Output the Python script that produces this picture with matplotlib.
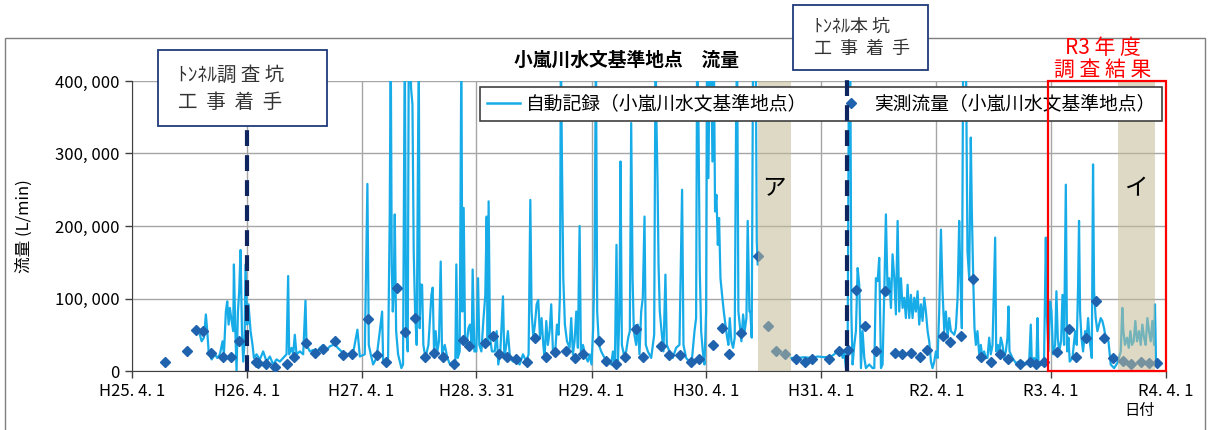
import numpy as np
import pandas as pd
import matplotlib
matplotlib.use('Agg')
import matplotlib.pyplot as plt
from matplotlib.lines import Line2D
from matplotlib.patches import Rectangle

plt.rcParams['font.family'] = ['Noto Sans CJK JP', 'DejaVu Sans']

# --- data (time in years from H25.4.1, flow in 1000 L/min) ---
auto_t = [
    0.591, 0.606, 0.626, 0.643, 0.655, 0.667, 0.693, 0.722, 0.742, 0.765, 0.788, 0.8, 0.817, 0.829, 0.841,
    0.852, 0.867, 0.881, 0.887, 0.899, 0.91, 0.922, 0.933, 0.945, 0.957, 0.968, 0.98, 0.988, 1.003, 1.014,
    1.032, 1.049, 1.061, 1.084, 1.113, 1.142, 1.171, 1.2, 1.229, 1.258, 1.287, 1.316, 1.345, 1.359, 1.368,
    1.388, 1.403, 1.417, 1.432, 1.461, 1.49, 1.51, 1.519, 1.548, 1.577, 1.606, 1.635, 1.664, 1.693, 1.722,
    1.751, 1.765, 1.823, 1.881, 1.925, 1.962, 1.983, 2.026, 2.049, 2.061, 2.078, 2.099, 2.128, 2.157, 2.177,
    2.186, 2.214, 2.229, 2.243, 2.252, 2.261, 2.27, 2.278, 2.287, 2.299, 2.316, 2.345, 2.359, 2.374, 2.386,
    2.4, 2.409, 2.42, 2.429, 2.441, 2.452, 2.464, 2.478, 2.496, 2.504, 2.513, 2.525, 2.536, 2.554, 2.58,
    2.606, 2.617, 2.629, 2.643, 2.658, 2.672, 2.687, 2.699, 2.722, 2.745, 2.768, 2.794, 2.814, 2.823, 2.835,
    2.852, 2.867, 2.875, 2.887, 2.899, 2.913, 2.928, 2.942, 2.957, 2.965, 2.98, 2.997, 3.012, 3.023, 3.041,
    3.058, 3.075, 3.087, 3.096, 3.104, 3.116, 3.133, 3.157, 3.174, 3.188, 3.206, 3.229, 3.241, 3.258, 3.272,
    3.29, 3.316, 3.345, 3.374, 3.403, 3.432, 3.452, 3.467, 3.478, 3.493, 3.507, 3.522, 3.536, 3.551, 3.565,
    3.58, 3.591, 3.606, 3.62, 3.635, 3.649, 3.664, 3.684, 3.699, 3.713, 3.725, 3.733, 3.742, 3.754, 3.768,
    3.786, 3.809, 3.823, 3.838, 3.852, 3.867, 3.881, 3.896, 3.907, 3.925, 3.948, 3.968, 3.983, 4.0, 4.014,
    4.026, 4.038, 4.049, 4.064, 4.084, 4.113, 4.142, 4.171, 4.186, 4.203, 4.217, 4.229, 4.243, 4.252, 4.264,
    4.281, 4.301, 4.319, 4.333, 4.345, 4.357, 4.368, 4.388, 4.403, 4.417, 4.432, 4.446, 4.461, 4.472, 4.49,
    4.519, 4.545, 4.557, 4.565, 4.574, 4.583, 4.594, 4.609, 4.626, 4.643, 4.655, 4.678, 4.707, 4.736, 4.765,
    4.788, 4.8, 4.823, 4.852, 4.875, 4.896, 4.91, 4.919, 4.93, 4.942, 4.954, 4.968, 4.983, 4.997, 5.006,
    5.017, 5.029, 5.041, 5.052, 5.064, 5.075, 5.087, 5.099, 5.11, 5.122, 5.136, 5.151, 5.165, 5.18, 5.191,
    5.203, 5.217, 5.232, 5.246, 5.258, 5.267, 5.278, 5.29, 5.304, 5.319, 5.333, 5.348, 5.359, 5.374, 5.382,
    5.394, 5.406, 5.417, 5.429, 5.438, 5.446, 5.6,
    5.736, 5.794, 5.852, 5.91, 5.968, 6.026, 6.084, 6.113, 6.142, 6.157, 6.171, 6.186, 6.2, 6.214, 6.229,
    6.241, 6.252, 6.261, 6.272, 6.287, 6.301, 6.316, 6.33, 6.345, 6.359, 6.374, 6.388, 6.417, 6.446, 6.461,
    6.475, 6.49, 6.504, 6.519, 6.533, 6.548, 6.562, 6.577, 6.591, 6.606, 6.62, 6.635, 6.649, 6.664, 6.678,
    6.693, 6.707, 6.722, 6.736, 6.751, 6.765, 6.78, 6.794, 6.809, 6.823, 6.838, 6.852, 6.867, 6.881, 6.896,
    6.91, 6.925, 6.939, 6.954, 6.968, 6.983, 6.997, 7.012, 7.026, 7.041, 7.055, 7.07, 7.084, 7.099, 7.113,
    7.128, 7.157, 7.171, 7.186, 7.2, 7.209, 7.223, 7.235, 7.246, 7.258, 7.272, 7.287, 7.301, 7.31, 7.322,
    7.333, 7.345, 7.359, 7.374, 7.388, 7.403, 7.417, 7.432, 7.446, 7.461, 7.475, 7.49, 7.513, 7.522, 7.536,
    7.548, 7.562, 7.577, 7.591, 7.606, 7.62, 7.629, 7.638, 7.664, 7.693, 7.722, 7.751, 7.78, 7.809, 7.823,
    7.832, 7.852, 7.872, 7.881, 7.89, 7.91, 7.939, 7.954, 7.962, 7.977, 7.991, 8.003, 8.017, 8.035, 8.046,
    8.058, 8.07, 8.087, 8.099, 8.113, 8.128, 8.139, 8.151, 8.162, 8.186, 8.209, 8.223, 8.235, 8.243, 8.252,
    8.264, 8.278, 8.296, 8.31, 8.322, 8.336, 8.354, 8.365, 8.374, 8.388, 8.403, 8.417, 8.432, 8.446, 8.461,
    8.475, 8.499, 8.519, 8.548, 8.577, 8.606, 8.62, 8.629, 8.643, 8.661, 8.676, 8.69, 8.704, 8.719, 8.733,
    8.748, 8.765, 8.78, 8.794, 8.809, 8.823, 8.838, 8.852, 8.867, 8.881, 8.896, 8.904, 8.913,
]
auto_v = [
    50, 41, 46, 78, 55, 27, 16, 23, 18, 23, 41, 23, 82, 96, 64,
    87, 69, 55, 147, 59, 0, 82, 110, 167, 55, 13, 41, 147, 64, 92,
    55, 36, 18, 23, 16, 27, 13, 20, 9, 16, 13, 18, 23, 131, 23,
    32, 23, 50, 23, 27, 23, 97, 36, 27, 29, 25, 32, 36, 29, 34,
    36, 36, 27, 23, 25, 57, 20, 23, 258, 36, 23, 9, 18, 55, 82,
    13, 9, 18, 211, 450, 147, 82, 110, 216, 55, 23, 4, 9, 450, 59,
    27, 450, 450, 390, 368, 165, 82, 36, 450, 59, 119, 119, 36, 18, 36,
    105, 115, 27, 55, 27, 41, 151, 23, 36, 18, 9, 13, 9, 147, 18,
    27, 450, 82, 225, 46, 36, 59, 64, 36, 140, 27, 27, 128, 36, 27,
    69, 105, 213, 36, 234, 46, 27, 27, 55, 9, 27, 103, 18, 36, 55,
    18, 13, 13, 9, 23, 13, 23, 236, 82, 46, 64, 92, 98, 46, 73,
    36, 18, 69, 36, 55, 92, 27, 27, 64, 50, 105, 450, 296, 128, 64,
    41, 32, 73, 23, 41, 82, 32, 200, 27, 36, 20, 13, 23, 9, 59,
    147, 450, 82, 36, 27, 18, 13, 9, 27, 9, 174, 9, 82, 289, 36,
    23, 27, 46, 55, 342, 128, 55, 36, 64, 23, 82, 101, 213, 36, 27,
    18, 50, 450, 342, 266, 147, 82, 55, 27, 133, 36, 27, 18, 32, 36,
    250, 36, 18, 13, 18, 55, 73, 450, 358, 138, 55, 27, 9, 82, 450,
    266, 450, 450, 289, 450, 220, 243, 174, 211, 128, 105, 82, 64, 46, 36,
    73, 41, 32, 46, 345, 450, 82, 64, 41, 78, 55, 73, 207, 82, 82,
    46, 450, 450, 450, 179, 147, np.nan,
    18, 18, 19, 18, 20, 19, 20, 23, 29, 23, 27, 18, 27, 4, 36,
    450, 450, 82, 9, 36, 55, 142, 119, 4, 55, 18, 4, 9, 4, 4,
    128, 124, 156, 4, 9, 110, 216, 105, 128, 87, 161, 128, 78, 207, 82,
    128, 87, 101, 73, 119, 73, 105, 73, 101, 82, 110, 64, 92, 69, 101,
    82, 55, 41, 13, 4, 13, 27, 18, 82, 195, 110, 55, 82, 46, 73,
    55, 50, 59, 101, 207, 138, 59, 450, 450, 450, 165, 128, 322, 220, 128,
    59, 36, 55, 23, 36, 18, 27, 18, 18, 46, 23, 36, 184, 27, 36,
    23, 46, 36, 18, 27, 46, 89, 27, 18, 11, 13, 13, 9, 13, 64,
    13, 18, 13, 73, 13, 9, 18, 184, 82, 27, 96, 82, 23, 36, 110,
    46, 27, 41, 105, 36, 257, 27, 46, 13, 18, 55, 36, 119, 207, 82,
    46, 27, 55, 46, 73, 41, 18, 285, 110, 73, 55, 64, 73, 69, 59,
    46, 41, 9, 4, 11, 27, 87, 55, 36, 46, 32, 55, 36, 41, 69,
    41, 55, 36, 64, 46, 36, 73, 55, 41, 69, 36, 92, 13,
]

meas_t = [
    0.287, 0.481, 0.554, 0.614, 0.687, 0.788, 0.861, 0.933, 1.075, 1.093, 1.165, 1.246, 1.345, 1.412, 1.516,
    1.594, 1.664, 1.765, 1.838, 1.916, 2.055, 2.133, 2.214, 2.304, 2.374, 2.46, 2.548, 2.629, 2.71, 2.803,
    2.884, 2.936, 3.07, 3.142, 3.197, 3.261, 3.339, 3.441, 3.51, 3.6, 3.678, 3.78, 3.852, 3.925, 4.064,
    4.128, 4.215, 4.287, 4.383, 4.446, 4.606, 4.678, 4.77, 4.867, 4.933, 5.055, 5.133, 5.2, 5.301, 5.446,
    5.533, 5.606, 5.687, 5.78, 5.861, 5.919, 6.064, 6.151, 6.229, 6.301, 6.38, 6.475, 6.554, 6.641, 6.699,
    6.78, 6.858, 6.919, 7.055, 7.12, 7.22, 7.32, 7.394, 7.475, 7.554, 7.626, 7.728, 7.812, 7.87, 7.939,
    8.055, 8.157, 8.22, 8.3, 8.388, 8.461, 8.542, 8.626, 8.693, 8.78, 8.852, 8.925,
]
meas_v = [
    13, 27, 57, 55, 25, 19, 19, 42, 12, 11, 9, 6, 10, 19, 39,
    25, 30, 42, 22, 23, 72, 22, 12, 114, 54, 73, 20, 25, 20, 10,
    43, 35, 39, 48, 23, 19, 16, 12, 46, 20, 26, 28, 18, 23, 42,
    14, 9, 20, 58, 19, 35, 22, 22, 12, 16, 36, 59, 23, 52, 158,
    62, 28, 23, 16, 13, 16, 16, 27, 29, 112, 62, 28, 110, 25, 23,
    25, 19, 29, 48, 40, 48, 127, 20, 13, 23, 16, 9, 12, 9, 12,
    26, 58, 20, 45, 97, 46, 18, 14, 9, 12, 11, 11,
]

tick_dates = ['2013-04-01', '2014-04-01', '2015-04-01', '2016-03-31', '2017-04-01',
              '2018-04-01', '2019-04-01', '2020-04-01', '2021-04-01', '2022-04-01']
tick_labels = ['H25. 4. 1', 'H26. 4. 1', 'H27. 4. 1', 'H28. 3. 31', 'H29. 4. 1',
               'H30. 4. 1', 'H31. 4. 1', 'R2. 4. 1', 'R3. 4. 1', 'R4. 4. 1']
y_ticks = [0, 100000, 200000, 300000, 400000]
y_labels = ['0', '100, 000', '200, 000', '300, 000', '400, 000']

start_survey = 1.0      # トンネル調査坑 工事着手 (H26.4.1)
start_main = 6.226      # トンネル本坑 工事着手
shade_a = (5.446, 5.736)
shade_i = (8.585, 8.902)
r3_box = (7.974, 9.0)

START = pd.Timestamp('2013-04-01')


def to_dates(years):
    return START + pd.to_timedelta(np.asarray(years, dtype=float) * 365.25, unit='D')


def fx(px):
    return px / 1208


def fy(py):
    return 1 - py / 430


LINE_C = '#17ACE8'
DOT_C = '#1F62AE'
NAVY = '#0F2560'

fig = plt.figure(figsize=(12.08, 4.3), dpi=100)
ax = fig.add_axes([fx(132), fy(371), fx(1166) - fx(132), fy(81) - fy(371)])

# outer frame
fig.add_artist(Rectangle((fx(5), -0.01), fx(1205) - fx(5), fy(38) + 0.01, transform=fig.transFigure,
                         fill=False, edgecolor='#7f7f7f', lw=1))

ax.plot(to_dates(auto_t), np.array(auto_v) * 1000, color=LINE_C, lw=1.6, zorder=3)
ax.plot(to_dates(meas_t), np.array(meas_v) * 1000, linestyle='none', marker='D', ms=4.6,
        color=DOT_C, zorder=4)

# shaded periods, drawn over the data
for (a, b), lab in [(shade_a, 'ア'), (shade_i, 'イ')]:
    d0, d1 = to_dates([a, b])
    ax.axvspan(d0, d1, color='#C1BA94', alpha=0.55, lw=0, zorder=4.5)
    ax.text(to_dates([(a + b) / 2])[0], 252000, lab, ha='center', va='center', fontsize=17, zorder=7)

# red box (R3 survey)
b0, b1 = to_dates(r3_box)
ax.add_patch(Rectangle((b0, 0), b1 - b0, 400000, fill=False, edgecolor='#FF0000', lw=1.6,
                       clip_on=False, zorder=8))

# construction start lines
ax.plot(to_dates([start_survey] * 2), [0, 336000], color=NAVY, lw=3, linestyle=(0, (3.8, 2.2)),
        clip_on=False, zorder=7)
ax.plot(to_dates([start_main] * 2), [0, 414000], color=NAVY, lw=3, linestyle=(0, (3.8, 2.2)),
        clip_on=False, zorder=7)

ax.set_xlim(to_dates([0])[0], to_dates([9])[0])
ax.set_ylim(0, 400000)
ax.set_xticks(pd.to_datetime(tick_dates))
ax.set_xticklabels(tick_labels, fontsize=12)
ax.set_yticks(y_ticks)
ax.set_yticklabels(y_labels, fontsize=12)
ax.tick_params(axis='both', length=5, width=1, color='#404040', pad=4)
ax.grid(True, color='#A6A6A6', lw=1)
ax.set_axisbelow(True)
for s in ['top', 'right']:
    ax.spines[s].set_visible(False)
for s in ['left', 'bottom']:
    ax.spines[s].set_color('#404040')
ax.set_ylabel('流量 (L/min)', fontsize=12, labelpad=16)

# legend
handles = [Line2D([], [], color=LINE_C, lw=1.8),
           Line2D([], [], linestyle='none', marker='D', ms=4.6, color=DOT_C)]
leg = ax.legend(handles, ['自動記録（小嵐川水文基準地点）', '実測流量（小嵐川水文基準地点）'],
                ncol=2, loc='upper left', bbox_to_anchor=(fx(480), fy(87)), bbox_transform=fig.transFigure,
                fontsize=13.5, frameon=True, fancybox=False, framealpha=1, edgecolor='#404040',
                handlelength=1.8, handletextpad=0.3, columnspacing=1.45, borderpad=0.35, borderaxespad=0)
leg.set_zorder(6)
leg.get_frame().set_linewidth(1.2)

# title and annotations
fig.text(fx(627), fy(60), '小嵐川水文基準地点　流量', ha='center', va='center', fontsize=13.5,
         fontweight='bold')
fig.text(fx(1140), fy(410), '日付', ha='center', va='center', fontsize=11)
fig.text(fx(1103), fy(59), 'R3 年 度\n調 査 結 果', ha='center', va='center', fontsize=15,
         color='#FF0000', linespacing=0.95)

fig.add_artist(Rectangle((fx(158), fy(126)), fx(327) - fx(158), fy(50) - fy(126),
                         transform=fig.transFigure, facecolor='white', edgecolor='#1F3A7A', lw=1.3))
fig.text(fx(178), fy(75), 'ﾄﾝﾈﾙ調 査 坑', ha='left', va='center', fontsize=14, color='#333333')
fig.text(fx(178), fy(102), '工  事  着  手', ha='left', va='center', fontsize=14, color='#333333')

fig.add_artist(Rectangle((fx(793), fy(70)), fx(928) - fx(793), fy(5) - fy(70),
                         transform=fig.transFigure, facecolor='white', edgecolor='#1F3A7A', lw=1.3))
fig.text(fx(814), fy(27), 'ﾄﾝﾈﾙ本 坑', ha='left', va='center', fontsize=13, color='#333333')
fig.text(fx(814), fy(49), '工  事  着  手', ha='left', va='center', fontsize=13, color='#333333')

fig.savefig('out.png', dpi=100)
